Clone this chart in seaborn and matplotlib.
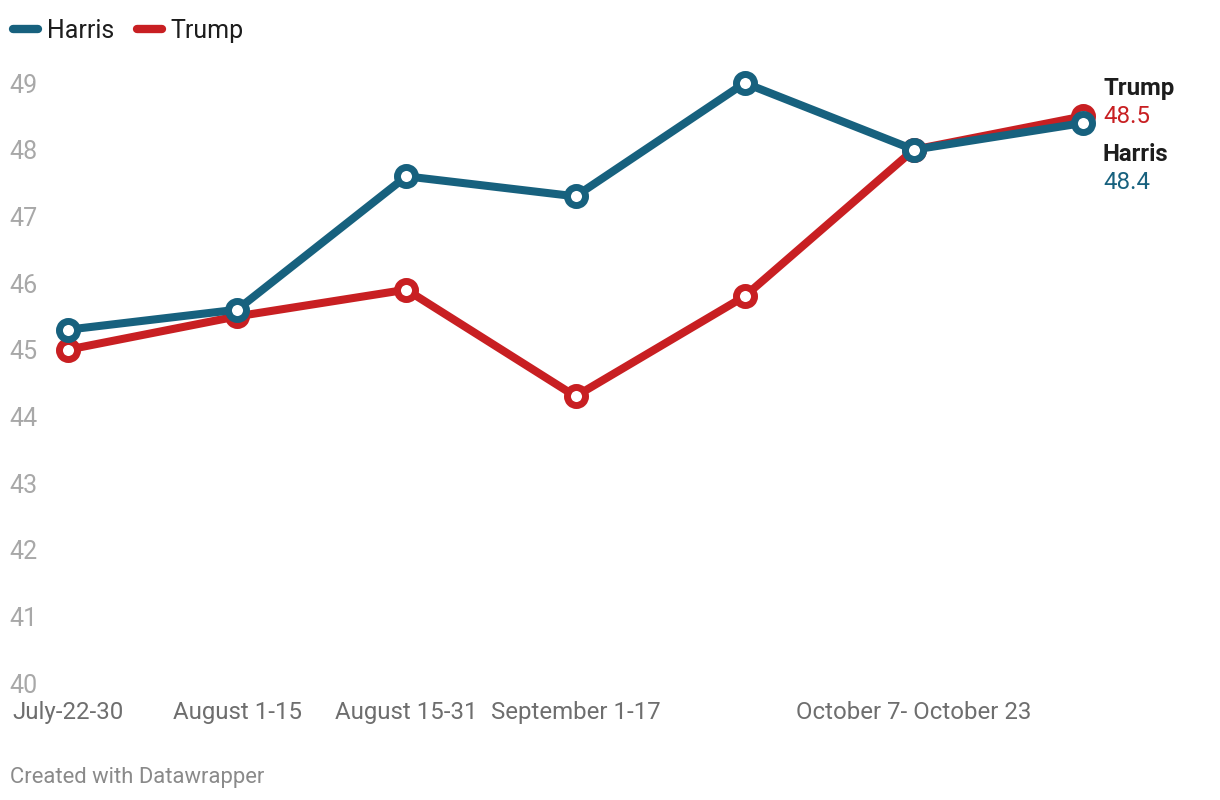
import seaborn as sns
import pandas as pd
from matplotlib import pyplot as plt
from matplotlib.lines import Line2D

# poll periods (two of them have no label in the chart)
periods = ["July-22-30", "August 1-15", "August 15-31", "September 1-17",
           "", "October 7- October 23", ""]
harris = [45.3, 45.6, 47.6, 47.3, 49.0, 48.0, 48.4]
trump = [45.0, 45.5, 45.9, 44.3, 45.8, 48.0, 48.5]
y_ticks = [40, 41, 42, 43, 44, 45, 46, 47, 48, 49]

HARRIS_C = "#17617e"
TRUMP_C = "#c81f22"

sns.set_style("white")
plt.rcParams["font.family"] = ["Roboto", "DejaVu Sans"]

df = pd.DataFrame({"idx": range(len(periods)), "Harris": harris, "Trump": trump})

fig = plt.figure(figsize=(12.2, 8), dpi=100)
ax = fig.add_axes([68 / 1220, 117 / 800, (1083 - 68) / 1220, 600 / 800])

# Trump first, Harris drawn on top
for name, col in [("Trump", TRUMP_C), ("Harris", HARRIS_C)]:
    sns.lineplot(data=df, x="idx", y=name, ax=ax, color=col, linewidth=5.8,
                 marker="o", markersize=13, markerfacecolor="white",
                 markeredgecolor=col, markeredgewidth=5,
                 solid_capstyle="round", solid_joinstyle="round")
for ln in ax.lines:
    ln.set_clip_on(False)

ax.set_xlim(0, len(periods) - 1)
ax.set_ylim(40, 49)
ax.set_xlabel("")
ax.set_ylabel("")
sns.despine(ax=ax, left=True, bottom=True)

ax.set_xticks(range(len(periods)))
ax.set_xticklabels(periods, fontsize=17.3, color="#6e6e6e")
ax.tick_params(axis="x", length=0, pad=13)

ax.set_yticks(y_ticks)
ax.set_yticklabels([str(v) for v in y_ticks], fontsize=18, color="#a8a8a8")
ax.tick_params(axis="y", length=0, pad=42)
for lab in ax.get_yticklabels():
    lab.set_horizontalalignment("left")

# end labels
last = len(periods) - 1
lab_kw = dict(textcoords="offset pixels", ha="left", va="center", fontsize=17.3,
              annotation_clip=False)
ax.annotate("Trump", (last, trump[-1]), xytext=(20, 28), fontweight="bold",
            color="#1d1d1d", **lab_kw)
ax.annotate(f"{trump[-1]}", (last, trump[-1]), xytext=(20, 0), color=TRUMP_C, **lab_kw)
ax.annotate("Harris", (last, trump[-1]), xytext=(20, -38), fontweight="bold",
            color="#1d1d1d", **lab_kw)
ax.annotate(f"{harris[-1]}", (last, trump[-1]), xytext=(20, -66), color=HARRIS_C, **lab_kw)

handles = [Line2D([], [], color=HARRIS_C, lw=6, solid_capstyle="round"),
           Line2D([], [], color=TRUMP_C, lw=6, solid_capstyle="round")]
fig.legend(handles, ["Harris", "Trump"], loc="upper left", bbox_to_anchor=(-0.0085, 1.006),
           ncol=2, frameon=False, fontsize=18, handlelength=1.0, handletextpad=0.35,
           columnspacing=0.9, labelcolor="#1d1d1d", borderaxespad=0.55)

fig.text(10 / 1220, 1 - 778 / 800, "Created with Datawrapper", fontsize=15.8,
         color="#8a8a8a", ha="left", va="center")

fig.savefig("out.png", dpi=100)
